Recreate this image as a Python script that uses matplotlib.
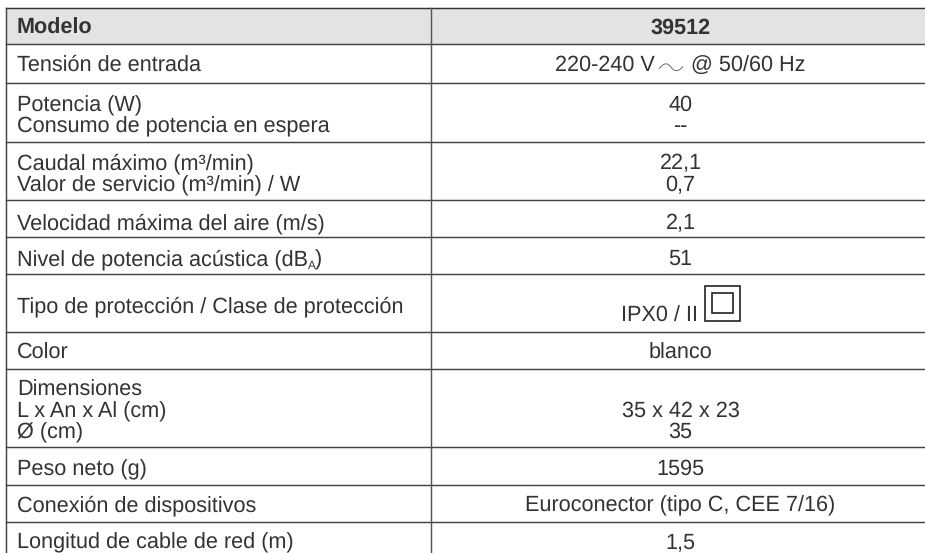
import matplotlib
matplotlib.use('Agg')
from matplotlib import pyplot as plt
from matplotlib.patches import Rectangle, PathPatch
from matplotlib.path import Path

plt.rcParams['font.family'] = ['Liberation Sans', 'DejaVu Sans']
plt.rcParams['text.hinting'] = 'no_hinting'

WIDTH = 925
HEIGHT = 553

# table content, one entry per text line
headers = ['Modelo', '39512']
labels = ['Tensión de entrada',
          'Potencia (W)', 'Consumo de potencia en espera',
          'Caudal máximo (m³/min)', 'Valor de servicio (m³/min) / W',
          'Velocidad máxima del aire (m/s)',
          'Nivel de potencia acústica (dB',
          'Tipo de protección / Clase de protección',
          'Color',
          'Dimensiones', 'L x An x Al (cm)', 'Ø (cm)',
          'Peso neto (g)',
          'Conexión de dispositivos',
          'Longitud de cable de red (m)']
values = ['220-240 V      @ 50/60 Hz',
          '40', '--',
          '22,1', '0,7',
          '2,1',
          '51',
          'IPX0 / II',
          'blanco',
          '', '35 x 42 x 23', '35',
          '1595',
          'Euroconector (tipo C, CEE 7/16)',
          '1,5']

# pixel layout
label_base = [71, 111, 132, 169, 191, 229, 265, 312, 359, 396, 417, 438, 475, 511, 548]
value_base = [71, 111, 132, 169, 191, 229, 265, 322, 359, 396, 417, 438, 475, 511, 548]
rules = [44, 83, 141.5, 200, 237, 274, 331.5, 368.5, 447, 485, 521.5]
TOP = 7.5
LEFT = 6
DIVIDER = 431
TEXT_X = 17
VALUE_X = 680.5
IPX_X = 659.5
INK = '#333333'
FONT = 15.6

fig = plt.figure(figsize=(WIDTH / 100, HEIGHT / 100), dpi=100)
ax = fig.add_axes([0, 0, 1, 1])
ax.set_xlim(0, WIDTH)
ax.set_ylim(HEIGHT, 0)
ax.axis('off')

# header band
ax.add_patch(Rectangle((LEFT, TOP), WIDTH - LEFT, rules[0] - TOP, fc='#e3e3e3', ec='none'))

# grid
ax.plot([LEFT, WIDTH], [TOP, TOP], color=INK, lw=1.05)
for y in rules:
    ax.plot([LEFT, WIDTH], [y, y], color='#444444', lw=1.05)
ax.plot([LEFT, LEFT], [TOP, HEIGHT], color='#444444', lw=1.05)
ax.plot([DIVIDER, DIVIDER], [TOP, HEIGHT], color='#555555', lw=1.05)

# header text
ax.text(TEXT_X, 34, headers[0], fontsize=FONT, fontweight='bold', color=INK, va='baseline')
ax.text(VALUE_X, 34, headers[1], fontsize=FONT, fontweight='bold', color=INK, va='baseline', ha='center')

# body text
for label, y in zip(labels, label_base):
    t = ax.text(TEXT_X, y, label, fontsize=FONT, color=INK, va='baseline')
    if label.endswith('(dB'):
        # small subscript after dB, then the closing bracket
        r = t.get_window_extent(fig.canvas.get_renderer())
        ax.text(r.x1 + 0.3, y + 4, 'A', fontsize=8.5, color=INK, va='baseline')
        ax.text(r.x1 + 7, y, ')', fontsize=FONT, color=INK, va='baseline')
for value, y in zip(values, value_base):
    x = IPX_X if value.startswith('IPX0') else VALUE_X
    ax.text(x, y, value, fontsize=FONT, color=INK, va='baseline', ha='center')

# alternating current sign
wave = Path([(659, 69), (664, 62.5), (667, 62.5), (671, 67), (674, 71.5), (678, 72.5), (683, 66.5)],
            [Path.MOVETO, Path.CURVE4, Path.CURVE4, Path.CURVE4, Path.CURVE4, Path.CURVE4, Path.CURVE4])
ax.add_patch(PathPatch(wave, fc='none', ec='#555555', lw=0.6))

# protection class II sign
ax.add_patch(Rectangle((704.5, 285.5), 35, 35, fc='none', ec='#222222', lw=1.2))
ax.add_patch(Rectangle((711.5, 292.5), 21, 20.5, fc='none', ec='#222222', lw=1.2))

fig.savefig('out.png', dpi=100, facecolor='white')
